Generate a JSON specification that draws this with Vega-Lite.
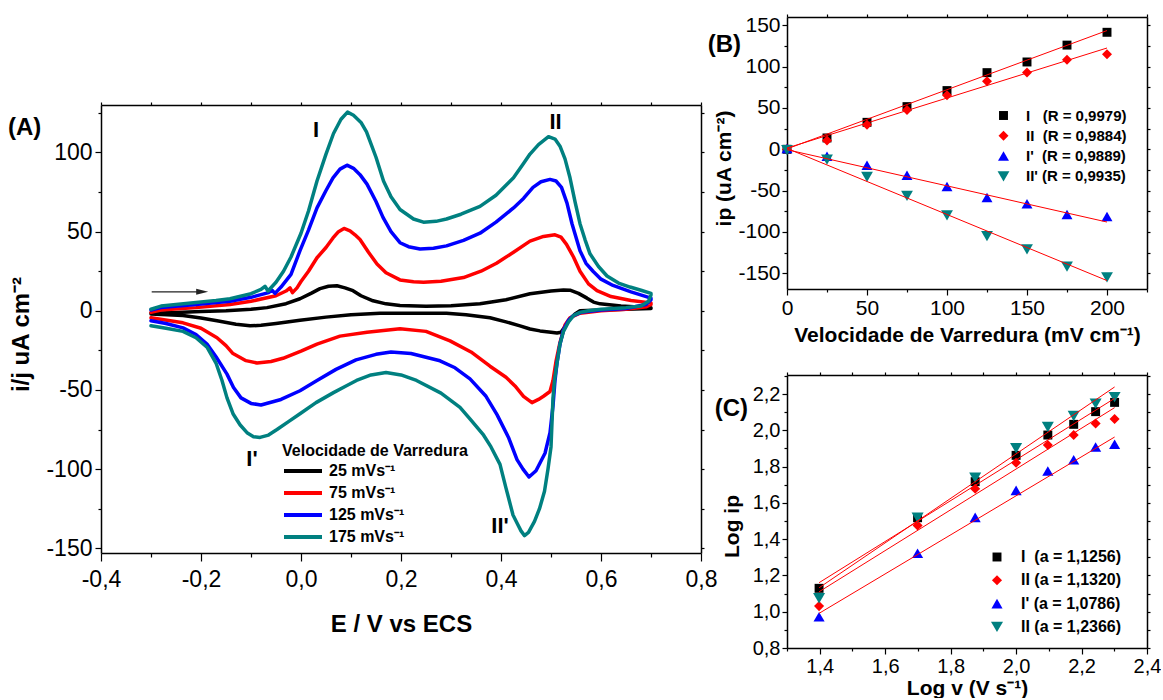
{
"$schema":"https://vega.github.io/schema/vega-lite/v6.json",
"background":"white",
"padding":{"left":8,"top":13,"right":0,"bottom":0},
"config":{"font":"Liberation Sans","view":{"stroke":null},
"axis":{"grid":false,"domainColor":"#000","domainWidth":1.5,"tickColor":"#000","tickWidth":1.2,"labelColor":"#000","titleColor":"#000","titleFontWeight":"bold","labelOverlap":false,"labelFlush":false},
"legend":{"labelColor":"#000","titleColor":"#000","labelLimit":400,"titleLimit":400},
"text":{"color":"#000"}},
"datasets":{
"cv":[
{"s":"25 mVs⁻¹","E":-0.3,"j":-1.5},{"s":"25 mVs⁻¹","E":-0.25,"j":-1},{"s":"25 mVs⁻¹","E":-0.2,"j":-0.5},{"s":"25 mVs⁻¹","E":-0.15,"j":0},{"s":"25 mVs⁻¹","E":-0.1,"j":1},{"s":"25 mVs⁻¹","E":-0.068,"j":2},{"s":"25 mVs⁻¹","E":-0.03,"j":4.5},{"s":"25 mVs⁻¹","E":-0.002,"j":7.6},{"s":"25 mVs⁻¹","E":0.02,"j":11},{"s":"25 mVs⁻¹","E":0.038,"j":14},{"s":"25 mVs⁻¹","E":0.055,"j":15.5},{"s":"25 mVs⁻¹","E":0.072,"j":15.8},{"s":"25 mVs⁻¹","E":0.088,"j":14.5},{"s":"25 mVs⁻¹","E":0.104,"j":12.7},{"s":"25 mVs⁻¹","E":0.12,"j":9.5},{"s":"25 mVs⁻¹","E":0.144,"j":6.3},{"s":"25 mVs⁻¹","E":0.17,"j":4.4},{"s":"25 mVs⁻¹","E":0.198,"j":3.3},{"s":"25 mVs⁻¹","E":0.25,"j":2.8},{"s":"25 mVs⁻¹","E":0.3,"j":3.2},{"s":"25 mVs⁻¹","E":0.358,"j":4.4},{"s":"25 mVs⁻¹","E":0.41,"j":7},{"s":"25 mVs⁻¹","E":0.458,"j":10.8},{"s":"25 mVs⁻¹","E":0.5,"j":12.5},{"s":"25 mVs⁻¹","E":0.525,"j":13.2},{"s":"25 mVs⁻¹","E":0.538,"j":13},{"s":"25 mVs⁻¹","E":0.555,"j":11},{"s":"25 mVs⁻¹","E":0.572,"j":8},{"s":"25 mVs⁻¹","E":0.585,"j":5.5},{"s":"25 mVs⁻¹","E":0.598,"j":4.4},{"s":"25 mVs⁻¹","E":0.64,"j":3},{"s":"25 mVs⁻¹","E":0.7,"j":2},
{"s":"25 mVs⁻¹","E":0.7,"j":1.5},{"s":"25 mVs⁻¹","E":0.65,"j":1},{"s":"25 mVs⁻¹","E":0.6,"j":0.5},{"s":"25 mVs⁻¹","E":0.558,"j":0},{"s":"25 mVs⁻¹","E":0.548,"j":-2},{"s":"25 mVs⁻¹","E":0.538,"j":-5},{"s":"25 mVs⁻¹","E":0.528,"j":-10},{"s":"25 mVs⁻¹","E":0.52,"j":-13.5},{"s":"25 mVs⁻¹","E":0.512,"j":-14},{"s":"25 mVs⁻¹","E":0.5,"j":-13.5},{"s":"25 mVs⁻¹","E":0.478,"j":-12.7},{"s":"25 mVs⁻¹","E":0.458,"j":-11.5},{"s":"25 mVs⁻¹","E":0.438,"j":-9.5},{"s":"25 mVs⁻¹","E":0.41,"j":-7},{"s":"25 mVs⁻¹","E":0.378,"j":-4.4},{"s":"25 mVs⁻¹","E":0.33,"j":-2.5},{"s":"25 mVs⁻¹","E":0.291,"j":-1.5},{"s":"25 mVs⁻¹","E":0.158,"j":-1.5},{"s":"25 mVs⁻¹","E":0.1,"j":-2.5},{"s":"25 mVs⁻¹","E":0.05,"j":-4},{"s":"25 mVs⁻¹","E":-0.002,"j":-6},{"s":"25 mVs⁻¹","E":-0.05,"j":-8},{"s":"25 mVs⁻¹","E":-0.08,"j":-9.2},{"s":"25 mVs⁻¹","E":-0.102,"j":-9.5},{"s":"25 mVs⁻¹","E":-0.13,"j":-8.5},{"s":"25 mVs⁻¹","E":-0.168,"j":-6.3},{"s":"25 mVs⁻¹","E":-0.2,"j":-4.5},{"s":"25 mVs⁻¹","E":-0.236,"j":-3},{"s":"25 mVs⁻¹","E":-0.3,"j":-2},
{"s":"75 mVs⁻¹","E":-0.3,"j":-1},{"s":"75 mVs⁻¹","E":-0.28,"j":0.5},{"s":"75 mVs⁻¹","E":-0.21,"j":2},{"s":"75 mVs⁻¹","E":-0.142,"j":4},{"s":"75 mVs⁻¹","E":-0.1,"j":6},{"s":"75 mVs⁻¹","E":-0.05,"j":9.5},{"s":"75 mVs⁻¹","E":-0.03,"j":12.5},{"s":"75 mVs⁻¹","E":-0.022,"j":14.5},{"s":"75 mVs⁻¹","E":-0.017,"j":11.5},{"s":"75 mVs⁻¹","E":-0.008,"j":14.5},{"s":"75 mVs⁻¹","E":0,"j":18.5},{"s":"75 mVs⁻¹","E":0.015,"j":25},{"s":"75 mVs⁻¹","E":0.032,"j":33.5},{"s":"75 mVs⁻¹","E":0.05,"j":40},{"s":"75 mVs⁻¹","E":0.064,"j":46},{"s":"75 mVs⁻¹","E":0.075,"j":50},{"s":"75 mVs⁻¹","E":0.086,"j":52},{"s":"75 mVs⁻¹","E":0.098,"j":50.5},{"s":"75 mVs⁻¹","E":0.108,"j":48},{"s":"75 mVs⁻¹","E":0.118,"j":45},{"s":"75 mVs⁻¹","E":0.135,"j":37},{"s":"75 mVs⁻¹","E":0.152,"j":29.5},{"s":"75 mVs⁻¹","E":0.17,"j":24},{"s":"75 mVs⁻¹","E":0.198,"j":19.5},{"s":"75 mVs⁻¹","E":0.225,"j":18.3},{"s":"75 mVs⁻¹","E":0.245,"j":18},{"s":"75 mVs⁻¹","E":0.28,"j":18.7},{"s":"75 mVs⁻¹","E":0.325,"j":21},{"s":"75 mVs⁻¹","E":0.36,"j":25},{"s":"75 mVs⁻¹","E":0.391,"j":30},{"s":"75 mVs⁻¹","E":0.425,"j":37},{"s":"75 mVs⁻¹","E":0.458,"j":44},{"s":"75 mVs⁻¹","E":0.485,"j":47},{"s":"75 mVs⁻¹","E":0.508,"j":48},{"s":"75 mVs⁻¹","E":0.52,"j":46.5},{"s":"75 mVs⁻¹","E":0.531,"j":42},{"s":"75 mVs⁻¹","E":0.545,"j":34},{"s":"75 mVs⁻¹","E":0.558,"j":25},{"s":"75 mVs⁻¹","E":0.575,"j":17},{"s":"75 mVs⁻¹","E":0.592,"j":12.7},{"s":"75 mVs⁻¹","E":0.62,"j":9},{"s":"75 mVs⁻¹","E":0.66,"j":6.5},{"s":"75 mVs⁻¹","E":0.7,"j":5},
{"s":"75 mVs⁻¹","E":0.7,"j":4},{"s":"75 mVs⁻¹","E":0.69,"j":2.5},{"s":"75 mVs⁻¹","E":0.65,"j":1},{"s":"75 mVs⁻¹","E":0.6,"j":0},{"s":"75 mVs⁻¹","E":0.558,"j":-1.5},{"s":"75 mVs⁻¹","E":0.538,"j":-4.4},{"s":"75 mVs⁻¹","E":0.528,"j":-9},{"s":"75 mVs⁻¹","E":0.518,"j":-20},{"s":"75 mVs⁻¹","E":0.51,"j":-32},{"s":"75 mVs⁻¹","E":0.504,"j":-44},{"s":"75 mVs⁻¹","E":0.498,"j":-51},{"s":"75 mVs⁻¹","E":0.485,"j":-54},{"s":"75 mVs⁻¹","E":0.475,"j":-56},{"s":"75 mVs⁻¹","E":0.462,"j":-58},{"s":"75 mVs⁻¹","E":0.445,"j":-54},{"s":"75 mVs⁻¹","E":0.428,"j":-47.5},{"s":"75 mVs⁻¹","E":0.41,"j":-42},{"s":"75 mVs⁻¹","E":0.378,"j":-35},{"s":"75 mVs⁻¹","E":0.34,"j":-26},{"s":"75 mVs⁻¹","E":0.298,"j":-19},{"s":"75 mVs⁻¹","E":0.25,"j":-13},{"s":"75 mVs⁻¹","E":0.198,"j":-11.4},{"s":"75 mVs⁻¹","E":0.132,"j":-13.5},{"s":"75 mVs⁻¹","E":0.078,"j":-16},{"s":"75 mVs⁻¹","E":0.032,"j":-21},{"s":"75 mVs⁻¹","E":0,"j":-25.5},{"s":"75 mVs⁻¹","E":-0.036,"j":-30},{"s":"75 mVs⁻¹","E":-0.06,"j":-32},{"s":"75 mVs⁻¹","E":-0.088,"j":-33},{"s":"75 mVs⁻¹","E":-0.11,"j":-31.5},{"s":"75 mVs⁻¹","E":-0.136,"j":-27},{"s":"75 mVs⁻¹","E":-0.15,"j":-22},{"s":"75 mVs⁻¹","E":-0.168,"j":-17},{"s":"75 mVs⁻¹","E":-0.2,"j":-11},{"s":"75 mVs⁻¹","E":-0.236,"j":-7.6},{"s":"75 mVs⁻¹","E":-0.3,"j":-4.4},
{"s":"125 mVs⁻¹","E":-0.3,"j":0.5},{"s":"125 mVs⁻¹","E":-0.28,"j":2},{"s":"125 mVs⁻¹","E":-0.21,"j":4},{"s":"125 mVs⁻¹","E":-0.142,"j":6},{"s":"125 mVs⁻¹","E":-0.1,"j":8.5},{"s":"125 mVs⁻¹","E":-0.065,"j":11.5},{"s":"125 mVs⁻¹","E":-0.058,"j":13},{"s":"125 mVs⁻¹","E":-0.052,"j":11},{"s":"125 mVs⁻¹","E":-0.04,"j":15},{"s":"125 mVs⁻¹","E":-0.02,"j":23},{"s":"125 mVs⁻¹","E":-0.002,"j":38},{"s":"125 mVs⁻¹","E":0.015,"j":51},{"s":"125 mVs⁻¹","E":0.032,"j":65},{"s":"125 mVs⁻¹","E":0.05,"j":76},{"s":"125 mVs⁻¹","E":0.064,"j":84},{"s":"125 mVs⁻¹","E":0.078,"j":89.5},{"s":"125 mVs⁻¹","E":0.092,"j":92},{"s":"125 mVs⁻¹","E":0.105,"j":90},{"s":"125 mVs⁻¹","E":0.118,"j":86},{"s":"125 mVs⁻¹","E":0.132,"j":80},{"s":"125 mVs⁻¹","E":0.15,"j":69},{"s":"125 mVs⁻¹","E":0.164,"j":59},{"s":"125 mVs⁻¹","E":0.18,"j":50},{"s":"125 mVs⁻¹","E":0.198,"j":43},{"s":"125 mVs⁻¹","E":0.215,"j":40.5},{"s":"125 mVs⁻¹","E":0.238,"j":39},{"s":"125 mVs⁻¹","E":0.265,"j":39.5},{"s":"125 mVs⁻¹","E":0.291,"j":41},{"s":"125 mVs⁻¹","E":0.325,"j":44.5},{"s":"125 mVs⁻¹","E":0.358,"j":49},{"s":"125 mVs⁻¹","E":0.39,"j":56},{"s":"125 mVs⁻¹","E":0.425,"j":65},{"s":"125 mVs⁻¹","E":0.445,"j":71},{"s":"125 mVs⁻¹","E":0.464,"j":78},{"s":"125 mVs⁻¹","E":0.48,"j":81.5},{"s":"125 mVs⁻¹","E":0.498,"j":83},{"s":"125 mVs⁻¹","E":0.51,"j":82},{"s":"125 mVs⁻¹","E":0.521,"j":78},{"s":"125 mVs⁻¹","E":0.532,"j":68},{"s":"125 mVs⁻¹","E":0.542,"j":55},{"s":"125 mVs⁻¹","E":0.558,"j":38},{"s":"125 mVs⁻¹","E":0.57,"j":30},{"s":"125 mVs⁻¹","E":0.584,"j":25},{"s":"125 mVs⁻¹","E":0.6,"j":20},{"s":"125 mVs⁻¹","E":0.624,"j":16},{"s":"125 mVs⁻¹","E":0.66,"j":12},{"s":"125 mVs⁻¹","E":0.7,"j":8},
{"s":"125 mVs⁻¹","E":0.7,"j":7},{"s":"125 mVs⁻¹","E":0.69,"j":4},{"s":"125 mVs⁻¹","E":0.65,"j":1.5},{"s":"125 mVs⁻¹","E":0.6,"j":0.5},{"s":"125 mVs⁻¹","E":0.56,"j":-1},{"s":"125 mVs⁻¹","E":0.545,"j":-3},{"s":"125 mVs⁻¹","E":0.535,"j":-6},{"s":"125 mVs⁻¹","E":0.525,"j":-12},{"s":"125 mVs⁻¹","E":0.518,"j":-21},{"s":"125 mVs⁻¹","E":0.512,"j":-33},{"s":"125 mVs⁻¹","E":0.508,"j":-44},{"s":"125 mVs⁻¹","E":0.504,"j":-60},{"s":"125 mVs⁻¹","E":0.498,"j":-77},{"s":"125 mVs⁻¹","E":0.488,"j":-90},{"s":"125 mVs⁻¹","E":0.47,"j":-101},{"s":"125 mVs⁻¹","E":0.456,"j":-105},{"s":"125 mVs⁻¹","E":0.444,"j":-100},{"s":"125 mVs⁻¹","E":0.432,"j":-94},{"s":"125 mVs⁻¹","E":0.415,"j":-80},{"s":"125 mVs⁻¹","E":0.392,"j":-65.6},{"s":"125 mVs⁻¹","E":0.37,"j":-54},{"s":"125 mVs⁻¹","E":0.338,"j":-43},{"s":"125 mVs⁻¹","E":0.308,"j":-36},{"s":"125 mVs⁻¹","E":0.278,"j":-31.6},{"s":"125 mVs⁻¹","E":0.22,"j":-27},{"s":"125 mVs⁻¹","E":0.18,"j":-26},{"s":"125 mVs⁻¹","E":0.15,"j":-27.5},{"s":"125 mVs⁻¹","E":0.11,"j":-31},{"s":"125 mVs⁻¹","E":0.07,"j":-37},{"s":"125 mVs⁻¹","E":0.032,"j":-44},{"s":"125 mVs⁻¹","E":-0.002,"j":-50.5},{"s":"125 mVs⁻¹","E":-0.04,"j":-56},{"s":"125 mVs⁻¹","E":-0.08,"j":-59.5},{"s":"125 mVs⁻¹","E":-0.1,"j":-58.5},{"s":"125 mVs⁻¹","E":-0.12,"j":-55},{"s":"125 mVs⁻¹","E":-0.135,"j":-48.5},{"s":"125 mVs⁻¹","E":-0.148,"j":-40},{"s":"125 mVs⁻¹","E":-0.17,"j":-29},{"s":"125 mVs⁻¹","E":-0.188,"j":-21},{"s":"125 mVs⁻¹","E":-0.21,"j":-15},{"s":"125 mVs⁻¹","E":-0.236,"j":-10.8},{"s":"125 mVs⁻¹","E":-0.27,"j":-8},{"s":"125 mVs⁻¹","E":-0.3,"j":-6.3},
{"s":"175 mVs⁻¹","E":-0.3,"j":1},{"s":"175 mVs⁻¹","E":-0.28,"j":3},{"s":"175 mVs⁻¹","E":-0.25,"j":4},{"s":"175 mVs⁻¹","E":-0.21,"j":5.3},{"s":"175 mVs⁻¹","E":-0.17,"j":6.5},{"s":"175 mVs⁻¹","E":-0.142,"j":7.6},{"s":"175 mVs⁻¹","E":-0.1,"j":10.8},{"s":"175 mVs⁻¹","E":-0.08,"j":13.5},{"s":"175 mVs⁻¹","E":-0.072,"j":15.5},{"s":"175 mVs⁻¹","E":-0.066,"j":12.5},{"s":"175 mVs⁻¹","E":-0.05,"j":18},{"s":"175 mVs⁻¹","E":-0.035,"j":25},{"s":"175 mVs⁻¹","E":-0.02,"j":34},{"s":"175 mVs⁻¹","E":0,"j":49},{"s":"175 mVs⁻¹","E":0.015,"j":63},{"s":"175 mVs⁻¹","E":0.032,"j":82},{"s":"175 mVs⁻¹","E":0.05,"j":99},{"s":"175 mVs⁻¹","E":0.065,"j":112},{"s":"175 mVs⁻¹","E":0.08,"j":121},{"s":"175 mVs⁻¹","E":0.093,"j":125.5},{"s":"175 mVs⁻¹","E":0.105,"j":123.5},{"s":"175 mVs⁻¹","E":0.12,"j":119},{"s":"175 mVs⁻¹","E":0.131,"j":113},{"s":"175 mVs⁻¹","E":0.15,"j":97},{"s":"175 mVs⁻¹","E":0.165,"j":82},{"s":"175 mVs⁻¹","E":0.18,"j":72},{"s":"175 mVs⁻¹","E":0.198,"j":64},{"s":"175 mVs⁻¹","E":0.225,"j":58},{"s":"175 mVs⁻¹","E":0.245,"j":56},{"s":"175 mVs⁻¹","E":0.27,"j":56.5},{"s":"175 mVs⁻¹","E":0.291,"j":58},{"s":"175 mVs⁻¹","E":0.32,"j":61},{"s":"175 mVs⁻¹","E":0.358,"j":66},{"s":"175 mVs⁻¹","E":0.39,"j":73},{"s":"175 mVs⁻¹","E":0.425,"j":84},{"s":"175 mVs⁻¹","E":0.445,"j":93},{"s":"175 mVs⁻¹","E":0.458,"j":99},{"s":"175 mVs⁻¹","E":0.475,"j":105},{"s":"175 mVs⁻¹","E":0.495,"j":110},{"s":"175 mVs⁻¹","E":0.508,"j":108.5},{"s":"175 mVs⁻¹","E":0.518,"j":104},{"s":"175 mVs⁻¹","E":0.528,"j":96},{"s":"175 mVs⁻¹","E":0.538,"j":84},{"s":"175 mVs⁻¹","E":0.548,"j":69},{"s":"175 mVs⁻¹","E":0.558,"j":55},{"s":"175 mVs⁻¹","E":0.568,"j":45},{"s":"175 mVs⁻¹","E":0.578,"j":36},{"s":"175 mVs⁻¹","E":0.595,"j":28},{"s":"175 mVs⁻¹","E":0.612,"j":22},{"s":"175 mVs⁻¹","E":0.635,"j":17.5},{"s":"175 mVs⁻¹","E":0.658,"j":15},{"s":"175 mVs⁻¹","E":0.68,"j":13},{"s":"175 mVs⁻¹","E":0.7,"j":11},
{"s":"175 mVs⁻¹","E":0.7,"j":10},{"s":"175 mVs⁻¹","E":0.695,"j":6},{"s":"175 mVs⁻¹","E":0.68,"j":3},{"s":"175 mVs⁻¹","E":0.65,"j":2},{"s":"175 mVs⁻¹","E":0.6,"j":1},{"s":"175 mVs⁻¹","E":0.575,"j":0},{"s":"175 mVs⁻¹","E":0.558,"j":-1},{"s":"175 mVs⁻¹","E":0.545,"j":-3},{"s":"175 mVs⁻¹","E":0.535,"j":-7},{"s":"175 mVs⁻¹","E":0.525,"j":-13},{"s":"175 mVs⁻¹","E":0.518,"j":-21},{"s":"175 mVs⁻¹","E":0.512,"j":-33},{"s":"175 mVs⁻¹","E":0.507,"j":-44},{"s":"175 mVs⁻¹","E":0.504,"j":-55},{"s":"175 mVs⁻¹","E":0.5,"j":-86},{"s":"175 mVs⁻¹","E":0.494,"j":-100},{"s":"175 mVs⁻¹","E":0.487,"j":-114},{"s":"175 mVs⁻¹","E":0.477,"j":-125},{"s":"175 mVs⁻¹","E":0.467,"j":-133},{"s":"175 mVs⁻¹","E":0.455,"j":-140},{"s":"175 mVs⁻¹","E":0.447,"j":-142},{"s":"175 mVs⁻¹","E":0.44,"j":-139},{"s":"175 mVs⁻¹","E":0.432,"j":-134},{"s":"175 mVs⁻¹","E":0.424,"j":-129},{"s":"175 mVs⁻¹","E":0.41,"j":-112},{"s":"175 mVs⁻¹","E":0.398,"j":-97},{"s":"175 mVs⁻¹","E":0.38,"j":-86},{"s":"175 mVs⁻¹","E":0.364,"j":-78},{"s":"175 mVs⁻¹","E":0.34,"j":-69},{"s":"175 mVs⁻¹","E":0.318,"j":-61},{"s":"175 mVs⁻¹","E":0.28,"j":-52},{"s":"175 mVs⁻¹","E":0.231,"j":-44},{"s":"175 mVs⁻¹","E":0.2,"j":-40.5},{"s":"175 mVs⁻¹","E":0.17,"j":-39},{"s":"175 mVs⁻¹","E":0.14,"j":-40.5},{"s":"175 mVs⁻¹","E":0.111,"j":-44},{"s":"175 mVs⁻¹","E":0.09,"j":-47.5},{"s":"175 mVs⁻¹","E":0.065,"j":-51.7},{"s":"175 mVs⁻¹","E":0.03,"j":-58},{"s":"175 mVs⁻¹","E":-0.002,"j":-65},{"s":"175 mVs⁻¹","E":-0.025,"j":-70},{"s":"175 mVs⁻¹","E":-0.048,"j":-75},{"s":"175 mVs⁻¹","E":-0.065,"j":-78.5},{"s":"175 mVs⁻¹","E":-0.082,"j":-80},{"s":"175 mVs⁻¹","E":-0.095,"j":-79.5},{"s":"175 mVs⁻¹","E":-0.108,"j":-77},{"s":"175 mVs⁻¹","E":-0.122,"j":-72},{"s":"175 mVs⁻¹","E":-0.136,"j":-65},{"s":"175 mVs⁻¹","E":-0.148,"j":-55},{"s":"175 mVs⁻¹","E":-0.158,"j":-44},{"s":"175 mVs⁻¹","E":-0.17,"j":-33},{"s":"175 mVs⁻¹","E":-0.188,"j":-23},{"s":"175 mVs⁻¹","E":-0.21,"j":-17},{"s":"175 mVs⁻¹","E":-0.236,"j":-13},{"s":"175 mVs⁻¹","E":-0.27,"j":-11},{"s":"175 mVs⁻¹","E":-0.3,"j":-9.5}
],
"bpts":[
{"s":"I\u00a0\u00a0\u00a0(R = 0,9979)","v":0,"ip":0},{"s":"I\u00a0\u00a0\u00a0(R = 0,9979)","v":25,"ip":13.7},{"s":"I\u00a0\u00a0\u00a0(R = 0,9979)","v":50,"ip":32.6},{"s":"I\u00a0\u00a0\u00a0(R = 0,9979)","v":75,"ip":51.6},{"s":"I\u00a0\u00a0\u00a0(R = 0,9979)","v":100,"ip":71},{"s":"I\u00a0\u00a0\u00a0(R = 0,9979)","v":125,"ip":92.7},{"s":"I\u00a0\u00a0\u00a0(R = 0,9979)","v":150,"ip":105.6},{"s":"I\u00a0\u00a0\u00a0(R = 0,9979)","v":175,"ip":126},{"s":"I\u00a0\u00a0\u00a0(R = 0,9979)","v":200,"ip":141.5},
{"s":"II\u00a0\u00a0(R = 0,9884)","v":0,"ip":0},{"s":"II\u00a0\u00a0(R = 0,9884)","v":25,"ip":10.5},{"s":"II\u00a0\u00a0(R = 0,9884)","v":50,"ip":29.8},{"s":"II\u00a0\u00a0(R = 0,9884)","v":75,"ip":47.5},{"s":"II\u00a0\u00a0(R = 0,9884)","v":100,"ip":65.3},{"s":"II\u00a0\u00a0(R = 0,9884)","v":125,"ip":82.2},{"s":"II\u00a0\u00a0(R = 0,9884)","v":150,"ip":93},{"s":"II\u00a0\u00a0(R = 0,9884)","v":175,"ip":108.4},{"s":"II\u00a0\u00a0(R = 0,9884)","v":200,"ip":114.9},
{"s":"I'\u00a0\u00a0(R = 0,9889)","v":0,"ip":1},{"s":"I'\u00a0\u00a0(R = 0,9889)","v":25,"ip":-8.5},{"s":"I'\u00a0\u00a0(R = 0,9889)","v":50,"ip":-19.3},{"s":"I'\u00a0\u00a0(R = 0,9889)","v":75,"ip":-31.4},{"s":"I'\u00a0\u00a0(R = 0,9889)","v":100,"ip":-45},{"s":"I'\u00a0\u00a0(R = 0,9889)","v":125,"ip":-58.4},{"s":"I'\u00a0\u00a0(R = 0,9889)","v":150,"ip":-66},{"s":"I'\u00a0\u00a0(R = 0,9889)","v":175,"ip":-79},{"s":"I'\u00a0\u00a0(R = 0,9889)","v":200,"ip":-81.4},
{"s":"II'\u00a0(R = 0,9935)","v":0,"ip":-1},{"s":"II'\u00a0(R = 0,9935)","v":25,"ip":-12.5},{"s":"II'\u00a0(R = 0,9935)","v":50,"ip":-33.5},{"s":"II'\u00a0(R = 0,9935)","v":75,"ip":-56.4},{"s":"II'\u00a0(R = 0,9935)","v":100,"ip":-80},{"s":"II'\u00a0(R = 0,9935)","v":125,"ip":-105},{"s":"II'\u00a0(R = 0,9935)","v":150,"ip":-121},{"s":"II'\u00a0(R = 0,9935)","v":175,"ip":-142},{"s":"II'\u00a0(R = 0,9935)","v":200,"ip":-154.8}
],
"bfit":[
{"f":"I","v":0,"ip":0.5},{"f":"I","v":200,"ip":143.6},
{"f":"II","v":0,"ip":1.5},{"f":"II","v":200,"ip":122.5},
{"f":"I'","v":0,"ip":-0.5},{"f":"I'","v":200,"ip":-88},
{"f":"II'","v":0,"ip":1},{"f":"II'","v":200,"ip":-158.8}
],
"cpts":[
{"s":"I\u00a0\u00a0(a = 1,1256)","lv":1.398,"lp":1.129},{"s":"I\u00a0\u00a0(a = 1,1256)","lv":1.699,"lp":1.518},{"s":"I\u00a0\u00a0(a = 1,1256)","lv":1.875,"lp":1.717},{"s":"I\u00a0\u00a0(a = 1,1256)","lv":2.0,"lp":1.862},{"s":"I\u00a0\u00a0(a = 1,1256)","lv":2.097,"lp":1.974},{"s":"I\u00a0\u00a0(a = 1,1256)","lv":2.176,"lp":2.033},{"s":"I\u00a0\u00a0(a = 1,1256)","lv":2.243,"lp":2.103},{"s":"I\u00a0\u00a0(a = 1,1256)","lv":2.301,"lp":2.154},
{"s":"II (a = 1,1320)","lv":1.398,"lp":1.031},{"s":"II (a = 1,1320)","lv":1.699,"lp":1.476},{"s":"II (a = 1,1320)","lv":1.875,"lp":1.678},{"s":"II (a = 1,1320)","lv":2.0,"lp":1.821},{"s":"II (a = 1,1320)","lv":2.097,"lp":1.919},{"s":"II (a = 1,1320)","lv":2.176,"lp":1.974},{"s":"II (a = 1,1320)","lv":2.243,"lp":2.038},{"s":"II (a = 1,1320)","lv":2.301,"lp":2.062},
{"s":"I' (a = 1,0786)","lv":1.398,"lp":0.972},{"s":"I' (a = 1,0786)","lv":1.699,"lp":1.322},{"s":"I' (a = 1,0786)","lv":1.875,"lp":1.52},{"s":"I' (a = 1,0786)","lv":2.0,"lp":1.669},{"s":"I' (a = 1,0786)","lv":2.097,"lp":1.776},{"s":"I' (a = 1,0786)","lv":2.176,"lp":1.838},{"s":"I' (a = 1,0786)","lv":2.243,"lp":1.908},{"s":"I' (a = 1,0786)","lv":2.301,"lp":1.923},
{"s":"II (a = 1,2366)","lv":1.398,"lp":1.074},{"s":"II (a = 1,2366)","lv":1.699,"lp":1.518},{"s":"II (a = 1,2366)","lv":1.875,"lp":1.739},{"s":"II (a = 1,2366)","lv":2.0,"lp":1.901},{"s":"II (a = 1,2366)","lv":2.097,"lp":2.018},{"s":"II (a = 1,2366)","lv":2.176,"lp":2.079},{"s":"II (a = 1,2366)","lv":2.243,"lp":2.147},{"s":"II (a = 1,2366)","lv":2.301,"lp":2.183}
],
"cfit":[
{"f":"I","lv":1.398,"lp":1.16},{"f":"I","lv":2.301,"lp":2.176},
{"f":"II","lv":1.398,"lp":1.11},{"f":"II","lv":2.301,"lp":2.125},
{"f":"I'","lv":1.398,"lp":0.991},{"f":"I'","lv":2.301,"lp":1.963},
{"f":"II2","lv":1.398,"lp":1.132},{"f":"II2","lv":2.301,"lp":2.239}
]
},
"concat":[
{
"vconcat":[
{"width":600,"height":1,"data":{"values":[{}]},"mark":{"type":"point","opacity":0,"size":1},"encoding":{}},
{
"width":600,"height":448,
"layer":[
{"data":{"name":"cv"},
"mark":{"type":"line","strokeWidth":3.5,"strokeJoin":"round","strokeCap":"round"},
"encoding":{
"x":{"field":"E","type":"quantitative","scale":{"domain":[-0.4,0.8],"nice":false,"zero":false},
"axis":{"orient":"bottom","values":[-0.4,-0.3,-0.2,-0.1,0,0.1,0.2,0.3,0.4,0.5,0.6,0.7,0.8],"labelExpr":"abs(round(datum.value*10))%2==1 ? '' : (datum.value<-0.001?'-':'')+replace(format(abs(datum.value),'.1f'),'.',',')","tickSize":{"condition":{"test":"abs(round(datum.value*10))%2==1","value":4},"value":8},"labelFontSize":23,"labelPadding":7,"title":"E / V vs ECS","titleFontSize":24,"titlePadding":21}},
"y":{"field":"j","type":"quantitative","scale":{"domain":[-153,130],"nice":false,"zero":false},
"axis":{"orient":"left","values":[-150,-125,-100,-75,-50,-25,0,25,50,75,100,125],"labelExpr":"datum.value%50!=0 ? '' : (datum.value<0?'-':'')+format(abs(datum.value),'d')","tickSize":{"condition":{"test":"datum.value%50!=0","value":3},"value":6},"labelFontSize":23,"labelPadding":3,"title":"i/j uA cm⁻²","titleFontSize":24,"titlePadding":12,"titleY":229}},
"color":{"field":"s","type":"nominal","scale":{"domain":["25 mVs⁻¹","75 mVs⁻¹","125 mVs⁻¹","175 mVs⁻¹"],"range":["#000000","#ff0000","#0000ff","#008080"]},
"legend":{"orient":"none","legendX":181,"legendY":426,"title":"Velocidade de Varredura","titleFontSize":16,"titleFontWeight":"bold","titlePadding":4,"titleLimit":400,"labelFontSize":16,"labelFontWeight":"bold","symbolType":"stroke","symbolSize":1444,"symbolStrokeWidth":4,"clipHeight":16,"rowPadding":6,"labelOffset":5,"padding":0}},
"order":{"value":null}}},
{"data":{"values":[{"t":"I","E":0.03,"j":114},{"t":"II","E":0.509,"j":119},{"t":"I'","E":-0.098,"j":-93.6},{"t":"II'","E":0.398,"j":-136}]},
"mark":{"type":"text","fontSize":22,"fontWeight":"bold","align":"center","baseline":"middle"},
"encoding":{
"x":{"field":"E","type":"quantitative","axis":{"orient":"top","values":[-0.4,-0.3,-0.2,-0.1,0,0.1,0.2,0.3,0.4,0.5,0.6,0.7,0.8],"labels":false,"tickSize":3,"title":null}},
"y":{"field":"j","type":"quantitative","axis":{"orient":"right","values":[-150,-125,-100,-75,-50,-25,0,25,50,75,100,125],"labels":false,"tickSize":3,"title":null}},
"text":{"field":"t"}}},
{"data":{"values":[{}]},
"mark":{"type":"rule","color":"#222222","strokeWidth":1.3},
"encoding":{"x":{"datum":-0.2986,"axis":null},"x2":{"datum":-0.205},"y":{"datum":12,"axis":null}}},
{"data":{"values":[{}]},
"mark":{"type":"point","shape":"M-1,-0.5L1,0L-1,0.5Z","filled":true,"color":"#222222","size":144,"opacity":1},
"encoding":{"x":{"datum":-0.1976,"axis":null},"y":{"datum":12,"axis":null}}},
{"data":{"values":[{}]},
"mark":{"type":"text","text":"(A)","fontSize":24,"fontWeight":"bold","align":"left","baseline":"middle"},
"encoding":{"x":{"datum":-0.586,"axis":null},"y":{"datum":115.5,"axis":null}}}
],
"resolve":{"axis":{"x":"independent","y":"independent"}}
}
],
"spacing":87,
"bounds":"flush"
},
{
"vconcat":[
{
"width":360,"height":272,
"layer":[
{"data":{"name":"bpts"},
"mark":{"type":"point","filled":true,"opacity":1},
"encoding":{
"x":{"field":"v","type":"quantitative","scale":{"domain":[0,225],"nice":false,"zero":false},
"axis":{"orient":"bottom","values":[0,25,50,75,100,125,150,175,200,225],"labelExpr":"datum.value%50!=0 ? '' : format(datum.value,'d')","tickSize":{"condition":{"test":"datum.value%50!=0","value":3},"value":6},"labelFontSize":21,"labelPadding":2,"title":"Velocidade de Varredura (mV cm⁻¹)","titleFontSize":21,"titlePadding":6}},
"y":{"field":"ip","type":"quantitative","scale":{"domain":[-169,160],"nice":false,"zero":false},
"axis":{"orient":"left","values":[-150,-125,-100,-75,-50,-25,0,25,50,75,100,125,150],"labelExpr":"datum.value%50!=0 ? '' : (datum.value<0?'-':'')+format(abs(datum.value),'d')","tickSize":{"condition":{"test":"datum.value%50!=0","value":3},"value":5},"labelFontSize":21,"labelPadding":2,"title":"ip (uA cm⁻²)","titleFontSize":21,"titlePadding":3,"titleY":151}},
"color":{"field":"s","type":"nominal","scale":{"domain":["I\u00a0\u00a0\u00a0(R = 0,9979)","II\u00a0\u00a0(R = 0,9884)","I'\u00a0\u00a0(R = 0,9889)","II'\u00a0(R = 0,9935)"],"range":["#000000","#ff0000","#0000ff","#008080"]},
"legend":{"orient":"none","legendX":209,"legendY":91,"title":null,"labelFontSize":15,"labelFontWeight":"bold","rowPadding":4.3,"labelOffset":15,"padding":0}},
"shape":{"field":"s","type":"nominal","scale":{"domain":["I\u00a0\u00a0\u00a0(R = 0,9979)","II\u00a0\u00a0(R = 0,9884)","I'\u00a0\u00a0(R = 0,9889)","II'\u00a0(R = 0,9935)"],"range":["square","diamond","triangle-up","triangle-down"]},
"legend":{"orient":"none","legendX":209,"legendY":91,"title":null,"labelFontSize":15,"labelFontWeight":"bold","rowPadding":4.3,"labelOffset":15,"padding":0}},
"size":{"field":"s","type":"nominal","scale":{"domain":["I\u00a0\u00a0\u00a0(R = 0,9979)","II\u00a0\u00a0(R = 0,9884)","I'\u00a0\u00a0(R = 0,9889)","II'\u00a0(R = 0,9935)"],"range":[80,140,140,140]},
"legend":{"orient":"none","legendX":209,"legendY":91,"title":null,"labelFontSize":15,"labelFontWeight":"bold","rowPadding":4.3,"labelOffset":15,"padding":0}}}},
{"data":{"name":"bfit"},
"mark":{"type":"line","color":"#ff0000","strokeWidth":1},
"encoding":{
"x":{"field":"v","type":"quantitative","axis":{"orient":"top","values":[0,25,50,75,100,125,150,175,200,225],"labels":false,"tickSize":3,"title":null}},
"y":{"field":"ip","type":"quantitative","axis":{"orient":"right","values":[-150,-125,-100,-75,-50,-25,0,25,50,75,100,125,150],"labels":false,"tickSize":3,"title":null}},
"detail":{"field":"f"}}},
{"data":{"values":[{}]},
"mark":{"type":"text","text":"(B)","fontSize":24,"fontWeight":"bold","align":"left","baseline":"middle"},
"encoding":{"x":{"datum":-49.5,"axis":null},"y":{"datum":125.8,"axis":null}}}
],
"resolve":{"axis":{"x":"independent","y":"independent"}}
},
{
"width":360,"height":273,
"layer":[
{"data":{"name":"cpts"},
"mark":{"type":"point","filled":true,"opacity":1},
"encoding":{
"x":{"field":"lv","type":"quantitative","scale":{"domain":[1.3,2.4],"nice":false,"zero":false},
"axis":{"orient":"bottom","values":[1.3,1.4,1.5,1.6,1.7,1.8,1.9,2.0,2.1,2.2,2.3,2.4],"labelExpr":"round(datum.value*10)%2==1 ? '' : replace(format(datum.value,'.1f'),'.',',')","tickSize":{"condition":{"test":"round(datum.value*10)%2==1","value":3},"value":6},"labelFontSize":20,"labelPadding":2,"title":"Log v (V s⁻¹)","titleFontSize":21,"titlePadding":1}},
"y":{"field":"lp","type":"quantitative","scale":{"domain":[0.8,2.305],"nice":false,"zero":false},
"axis":{"orient":"left","values":[0.8,0.9,1.0,1.1,1.2,1.3,1.4,1.5,1.6,1.7,1.8,1.9,2.0,2.1,2.2,2.3],"labelExpr":"round(datum.value*10)%2==1 ? '' : replace(format(datum.value,'.1f'),'.',',')","tickSize":{"condition":{"test":"round(datum.value*10)%2==1","value":3},"value":5},"labelFontSize":20,"labelPadding":2,"title":"Log ip","titleFontSize":21,"titlePadding":10,"titleY":151}},
"color":{"field":"s","type":"nominal","scale":{"domain":["I\u00a0\u00a0(a = 1,1256)","II (a = 1,1320)","I' (a = 1,0786)","II (a = 1,2366)"],"range":["#000000","#ff0000","#0000ff","#008080"]},
"legend":{"orient":"none","legendX":202,"legendY":174,"title":null,"labelFontSize":16,"labelFontWeight":"bold","rowPadding":7.3,"labelOffset":16,"padding":0}},
"shape":{"field":"s","type":"nominal","scale":{"domain":["I\u00a0\u00a0(a = 1,1256)","II (a = 1,1320)","I' (a = 1,0786)","II (a = 1,2366)"],"range":["square","diamond","triangle-up","triangle-down"]},
"legend":{"orient":"none","legendX":202,"legendY":174,"title":null,"labelFontSize":16,"labelFontWeight":"bold","rowPadding":7.3,"labelOffset":16,"padding":0}},
"size":{"field":"s","type":"nominal","scale":{"domain":["I\u00a0\u00a0(a = 1,1256)","II (a = 1,1320)","I' (a = 1,0786)","II (a = 1,2366)"],"range":[80,145,145,145]},
"legend":{"orient":"none","legendX":202,"legendY":174,"title":null,"labelFontSize":16,"labelFontWeight":"bold","rowPadding":7.3,"labelOffset":16,"padding":0}}}},
{"data":{"name":"cfit"},
"mark":{"type":"line","color":"#ff0000","strokeWidth":1},
"encoding":{
"x":{"field":"lv","type":"quantitative","axis":{"orient":"top","values":[1.3,1.4,1.5,1.6,1.7,1.8,1.9,2.0,2.1,2.2,2.3,2.4],"labels":false,"tickSize":3,"title":null}},
"y":{"field":"lp","type":"quantitative","axis":{"orient":"right","values":[0.8,0.9,1.0,1.1,1.2,1.3,1.4,1.5,1.6,1.7,1.8,1.9,2.0,2.1,2.2,2.3],"labels":false,"tickSize":3,"title":null}},
"detail":{"field":"f"}}},
{"data":{"values":[{}]},
"mark":{"type":"text","text":"(C)","fontSize":24,"fontWeight":"bold","align":"left","baseline":"middle"},
"encoding":{"x":{"datum":1.079,"axis":null},"y":{"datum":2.12,"axis":null}}}
],
"resolve":{"axis":{"x":"independent","y":"independent"}}
}
],
"spacing":86,
"bounds":"flush",
"resolve":{"scale":{"color":"independent","shape":"independent","size":"independent"},"legend":{"color":"independent","shape":"independent","size":"independent"}}
}
],
"columns":2,
"align":"none",
"bounds":"full",
"spacing":-10,
"resolve":{"scale":{"color":"independent","shape":"independent","size":"independent"},"legend":{"color":"independent","shape":"independent","size":"independent"}}
}
